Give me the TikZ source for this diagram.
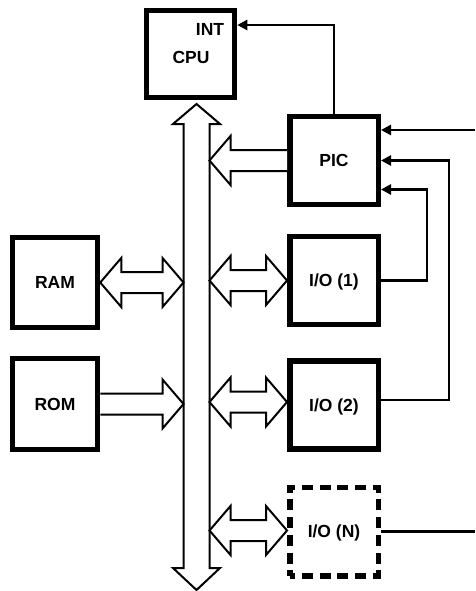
\documentclass[tikz,border=0pt]{standalone}
\usepackage{fontspec}
\setmainfont{Liberation Sans}
\usetikzlibrary{calc,arrows.meta}
\begin{document}
\begin{tikzpicture}[x=1pt,y=-1pt,
  box/.style={draw, line width=5.5pt, minimum width=88.5pt, minimum height=88pt, inner sep=0pt},
  dashbox/.style={box, minimum height=88.5pt, dash pattern=on 11pt off 6.7pt, dash phase=5.5pt},
  lbl/.style={font=\fontsize{17.5}{20}\selectfont\bfseries, text height=12.5pt, text depth=0pt, inner sep=0pt},
  hollow/.style={draw, fill=white, line width=2pt, line join=miter},
  conn/.style={draw, line width=2.8pt},
  tip/.style={-{Triangle[length=10pt,width=10pt]}},
  dbl/.style={to path={let \p1=(\tikztostart), \p2=(\tikztotarget),
     \p3=($(\p1)!21pt!(\p2)$), \p4=($(\p2)!21pt!(\p1)$) in
     (\x1,\y1) -- (\x3,\y1+24.5pt) -- (\x3,\y1+10.5pt) -- (\x4,\y1+10.5pt) -- (\x4,\y1+24.5pt)
     -- (\x2,\y1) -- (\x4,\y1-24.5pt) -- (\x4,\y1-10.5pt) -- (\x3,\y1-10.5pt) -- (\x3,\y1-24.5pt) -- cycle}},
  sgl/.style={to path={let \p1=(\tikztostart), \p2=(\tikztotarget),
     \p4=($(\p2)!21pt!(\p1)$) in
     (\x1,\y1+10.5pt) -- (\x4,\y1+10.5pt) -- (\x4,\y1+24.5pt)
     -- (\x2,\y1) -- (\x4,\y1-24.5pt) -- (\x4,\y1-10.5pt) -- (\x1,\y1-10.5pt)}}
]
\useasboundingbox (0,0) rectangle (475,591);

% boxes
\node[box, minimum width=88pt, minimum height=87pt] (cpu) at (190.5,54) {};
\node[lbl] (cputxt) at (191,57) {CPU};
\node[lbl] (inttxt) at (210,29) {INT};
\node[box, lbl] (pic) at (334,160.5) {PIC};
\node[box, lbl] (io1) at (334,280.5) {I/O (1)};
\node[box, lbl] (io2) at (334,405) {I/O (2)};
\node[dashbox, lbl] (ioN) at (334,531.5) {I/O (N)};
\node[box, lbl, minimum width=85pt, minimum height=90pt] (ram) at (55,282.5) {RAM};
\node[box, lbl, minimum width=85pt, minimum height=91pt] (rom) at (55,404) {ROM};

% bus
\coordinate (bustop) at (196.5,104);
\coordinate (busbot) at (196.5,590);
\coordinate (busL) at (183.5,0);
\coordinate (busR) at (209.5,0);
\draw[hollow] (bustop) -- (220,124) -- (busR |- 0,124) -- (busR |- 0,568) -- (220,568)
  -- (busbot) -- (173,568) -- (busL |- 0,568) -- (busL |- 0,124) -- (173,124) -- cycle;

% hollow arrows
\draw[hollow] (ram.east) to[dbl] (ram.east -| busL);
\draw[hollow] (rom.east) to[sgl] (rom.east -| busL);
\draw[hollow] (pic.west) to[sgl] (pic.west -| busR);
\draw[hollow] (busR |- io1.west) to[dbl] (io1.west);
\coordinate (a2) at ([yshift=3pt]io2.west);
\draw[hollow] (busR |- a2) to[dbl] (a2);
\coordinate (aN) at ([yshift=1pt]ioN.west);
\draw[hollow] (busR |- aN) to[dbl] (aN);

% signal lines
\coordinate (intin) at (cpu.east |- 0,25);
\draw[conn, tip] (pic.north) |- (intin);
\coordinate (in1) at (475,130);
\draw[conn, tip] (in1) -- (in1 -| pic.east);
\draw[conn, tip] ([yshift=5pt]io2.east) -- ++(68,0) |- (pic.east);
\draw[conn, tip] (io1.east) -- ++(46,0) |- ([yshift=-29pt]pic.east);
\coordinate (inN) at (475,531);
\draw[conn] (ioN.east) -- (ioN.east -| inN);
\end{tikzpicture}
\end{document}
